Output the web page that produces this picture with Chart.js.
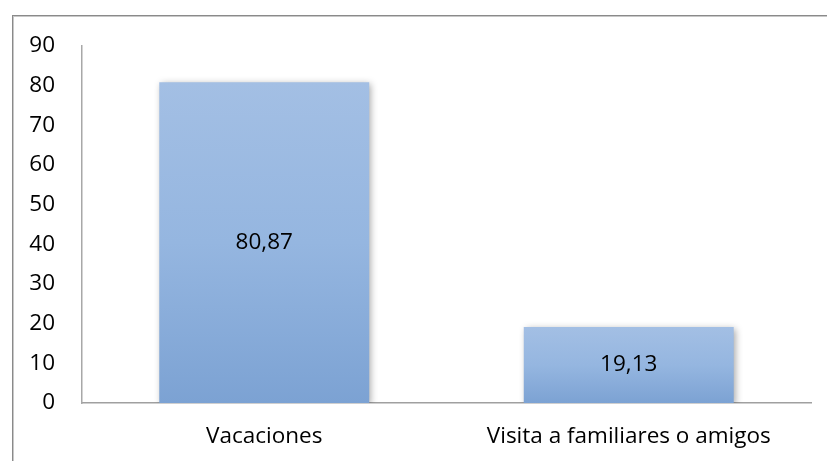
<!DOCTYPE html>
<html>
<head>
<meta charset="utf-8">
<script src="https://cdn.jsdelivr.net/npm/chart.js@4"></script>
<style>
  html, body { margin: 0; padding: 0; background: #fff; overflow: hidden; }
  #marco { position: absolute; left: 12px; top: 15px; width: 830px; height: 460px;
           border-left: 1px solid #8a8a8a; border-top: 1px solid #8a8a8a;
           box-shadow: inset 1px 1px 0 #c8c8c8; }
  #caja { position: absolute; left: 0; top: 0; width: 827px; height: 461px; }
</style>
</head>
<body>
<div id="marco"></div>
<div id="caja"><canvas id="grafico" width="827" height="461"></canvas></div>
<script>
const categorias = ['Vacaciones', 'Visita a familiares o amigos'];
const valores = [80.87, 19.13];
const ejeMin = 0, ejeMax = 90, ejePaso = 10;

const fuente = "'Open Sans', 'Noto Sans', sans-serif";
const tamano = 22.5;

// sombra suave bajo las barras, como en Excel
const sombraBarras = {
  id: 'sombraBarras',
  beforeDatasetsDraw(chart) {
    const ctx = chart.ctx;
    ctx.save();
    ctx.shadowColor = 'rgba(0,0,0,0.35)';
    ctx.shadowBlur = 7;
    ctx.shadowOffsetX = 2;
    ctx.shadowOffsetY = 2;
  },
  afterDatasetsDraw(chart) {
    chart.ctx.restore();
  }
};

// etiquetas de valor en el centro de cada barra
const etiquetasValor = {
  id: 'etiquetasValor',
  afterDatasetsDraw(chart) {
    const ctx = chart.ctx;
    const meta = chart.getDatasetMeta(0);
    ctx.save();
    ctx.shadowColor = 'transparent';
    ctx.fillStyle = '#000';
    ctx.font = tamano + 'px ' + fuente;
    ctx.textAlign = 'center';
    ctx.textBaseline = 'middle';
    meta.data.forEach((barra, i) => {
      const texto = valores[i].toFixed(2).replace('.', ',');
      ctx.fillText(texto, barra.x, (barra.y + barra.base) / 2);
    });
    ctx.restore();
  }
};

function degradado(context) {
  const chart = context.chart;
  const area = chart.chartArea;
  const escala = chart.scales.y;
  if (!area || !escala || context.dataIndex === undefined) return '#8fb1dc';
  const top = escala.getPixelForValue(valores[context.dataIndex]);
  const base = escala.getPixelForValue(0);
  if (!isFinite(top) || !isFinite(base) || top === base) return '#8fb1dc';
  const g = chart.ctx.createLinearGradient(0, top, 0, base);
  g.addColorStop(0, '#a3bfe4');
  g.addColorStop(0.5, '#95b6e0');
  g.addColorStop(1, '#7ca2d3');
  return g;
}

const ctx = document.getElementById('grafico').getContext('2d');
new Chart(ctx, {
  type: 'bar',
  data: {
    labels: categorias,
    datasets: [{
      data: valores,
      backgroundColor: degradado,
      borderWidth: 0,
      barPercentage: 0.576,
      categoryPercentage: 1
    }]
  },
  options: {
    responsive: false,
    animation: false,
    layout: { padding: { left: 0, right: 16, top: 46, bottom: 0 } },
    plugins: { legend: { display: false }, tooltip: { enabled: false } },
    scales: {
      x: {
        grid: { display: false, drawTicks: false },
        border: { color: '#a0a0a0', width: 1.5 },
        ticks: { color: '#000', font: { family: fuente, size: tamano }, padding: 20 },
        afterFit(scale) { scale.height = 58; }
      },
      y: {
        min: ejeMin, max: ejeMax,
        grid: { display: false, drawTicks: false },
        border: { color: '#a8a8a8', width: 1.5 },
        ticks: { stepSize: ejePaso, color: '#000', font: { family: fuente, size: tamano }, padding: 27 },
        afterFit(scale) { scale.width = 82; }
      }
    }
  },
  plugins: [sombraBarras, etiquetasValor]
});
</script>
</body>
</html>
